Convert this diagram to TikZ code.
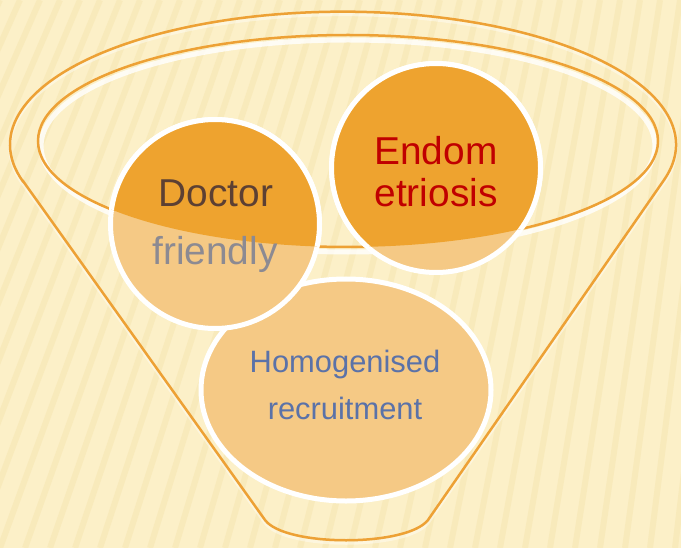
\documentclass[tikz,border=0pt]{standalone}
\usepackage{fontspec}
\setmainfont{Liberation Sans}
\usetikzlibrary{shapes.geometric}
\definecolor{bgbase}{HTML}{FCF0C8}
\definecolor{bgstripe}{HTML}{F3DFA4}
\definecolor{rim}{HTML}{EDA135}
\definecolor{deeporange}{HTML}{EEA32F}
\definecolor{paleorange}{HTML}{F5C985}
\definecolor{doctext}{HTML}{5C4033}
\definecolor{fadetext}{HTML}{8C8A92}
\definecolor{endotext}{HTML}{C00000}
\definecolor{homtext}{HTML}{5B72A8}
\begin{document}
\begin{tikzpicture}[x=1bp, y=-1bp,
  bubble/.style = {draw=white, line width=5bp, circle, minimum size=209bp, inner sep=0pt},
  oval/.style = {draw=white, line width=5bp, ellipse, minimum width=290bp, minimum height=222bp, inner sep=0pt},
  rimline/.style = {draw=rim, line width=2.5bp},
  shade/.style = {draw=white, line width=3bp, opacity=0.8},
  big/.style = {font=\fontsize{39}{41}\selectfont, inner sep=0pt, anchor=base},
  small/.style = {font=\fontsize{31}{33}\selectfont, inner sep=0pt, anchor=base}]
\useasboundingbox (0,0) rectangle (681,548);

% background
\fill[bgbase] (0,0) rectangle (681,548);
\begin{scope}
\clip (0,0) rectangle (681,548);
\foreach \s in {-300,-275,...,775}
  \draw[bgstripe, line width=6bp, opacity=0.35] (\s,548) -- ({\s+200-0.2*\s},0);
\end{scope}

% funnel
\draw[shade, opacity=0.4] (23,184) -- (265,523) .. controls (285,550) and (407,550) .. (428,523) -- (664,183)
  arc[start angle=15.4, end angle=-195.9, x radius=333, y radius=133] -- cycle;
\draw[rimline] (23,181) -- (265,520) .. controls (285,547) and (407,547) .. (428,520) -- (664,180)
  arc[start angle=15.4, end angle=-195.9, x radius=333, y radius=133] -- cycle;
\draw[shade, line width=5bp] (348,146) ellipse [x radius=307, y radius=106];
\draw[rimline] (348,141) ellipse [x radius=310, y radius=106];

% bubbles
\node[oval, fill=paleorange] (homog) at (346,390) {};
\node[bubble, fill=paleorange] (doctor) at (215,224) {};
\node[bubble, fill=paleorange] (endom) at (436,168) {};
\begin{scope}
\clip (348,141) ellipse [x radius=310, y radius=106];
\node[bubble, fill=deeporange] at (doctor) {};
\node[bubble, fill=deeporange] at (endom) {};
\end{scope}

% labels
\node[big, text=doctext] (doc1) at (216,207) {Doctor};
\node[big, text=fadetext] (doc2) at (215,265) {friendly};
\node[big, text=endotext] (endo1) at (436,165) {Endom};
\node[big, text=endotext] (endo2) at (436,207) {etriosis};
\node[small, text=homtext] (hom1) at (345,372) {Homogenised};
\node[small, text=homtext] (hom2) at (345,419) {recruitment};
\end{tikzpicture}
\end{document}
